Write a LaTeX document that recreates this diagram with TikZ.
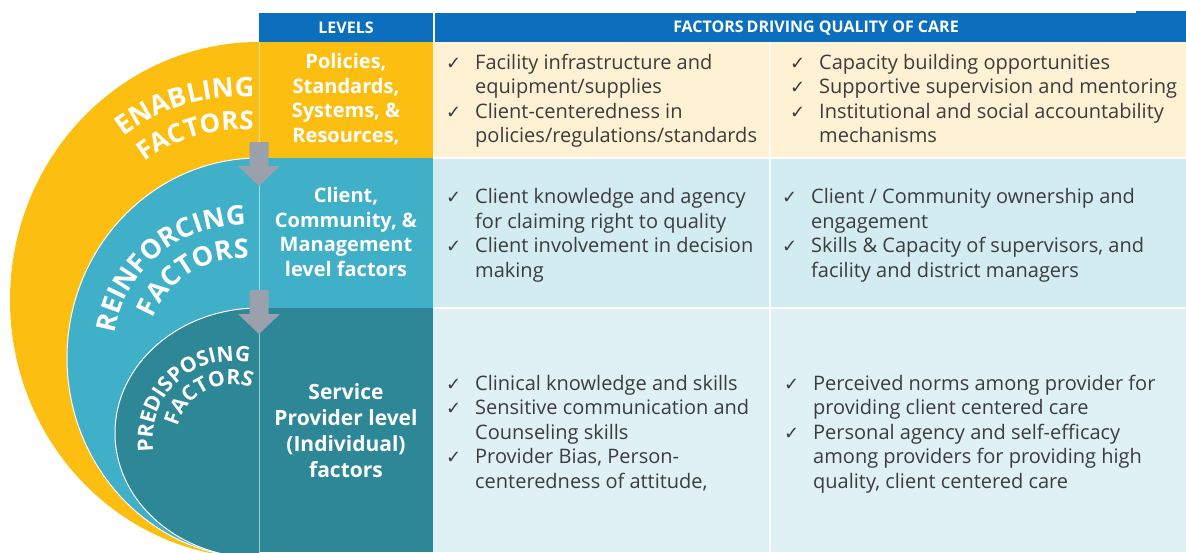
\documentclass[tikz,border=0pt]{standalone}
\usepackage{fontspec}
\setmainfont{Open Sans}
\newfontfamily\checkfont{DejaVu Sans}
\usetikzlibrary{decorations.text}

\definecolor{headblue}{HTML}{0B6FBE}
\definecolor{enablecol}{HTML}{FDBE12}
\definecolor{enablebg}{HTML}{FEF1D4}
\definecolor{reinfcol}{HTML}{40AFC8}
\definecolor{reinfbg}{HTML}{D3ECF2}
\definecolor{predcol}{HTML}{2D8796}
\definecolor{predbg}{HTML}{E0F1F5}
\definecolor{arrowgray}{HTML}{9AA0AC}
\definecolor{bodytext}{HTML}{3C3C3C}

\newcommand\tick{\makebox[29pt][l]{\checkfont\fontsize{18}{18}\selectfont ✓}}
\newcommand\notick{\hspace*{29pt}}

\begin{document}
\begin{tikzpicture}[x=1pt,y=-1pt,
  listtext/.style={anchor=west, inner sep=0pt, text=bodytext,
    font=\fontsize{20}{24.5}\selectfont},
  leveltext/.style={align=center, inner sep=0pt, text=white,
    font=\bfseries\fontsize{20}{24.5}\selectfont},
  headtext/.style={inner sep=0pt, text=white,
    font=\bfseries\fontsize{16}{16}\selectfont},
  sepline/.style={draw=white, line width=1.3pt},
  blockarrow/.style={fill=arrowgray},
  arctext/.style 2 args={decorate, decoration={text along path, text align=center,
    text color=white, text={|\bfseries\fontsize{#1}{#1}\selectfont|#2}}},
]
\useasboundingbox (0,0) rectangle (1186,552);

% nested half-discs on the left
\begin{scope}
  \clip (0,0) rectangle (259,552);
  \fill[enablecol] (259,300) ellipse [x radius=249pt, y radius=258pt];
  \filldraw[fill=reinfcol, draw=white, line width=1pt] (259,358) ellipse [x radius=192pt, y radius=200pt];
  \filldraw[fill=predcol, draw=white, line width=1pt] (259,433) ellipse [x radius=144pt, y radius=125pt];
\end{scope}

% header band
\fill[headblue] (259,13) rectangle (1186,42);
\fill[headblue] (1136,11) rectangle (1186,42);
\draw[sepline] (434,13) -- (434,42);
\node[headtext] (hlevels) at (346,28) {LEVELS};
\node[headtext] (hfactors) at (816,28) {FACTORS\hspace{3pt}DRIVING QUALITY OF CARE};

% level column cells
\fill[enablecol] (259,42) rectangle (433,158);
\fill[reinfcol] (259,158) rectangle (433,308);
\fill[predcol] (259,308) rectangle (433,552);

% factor cells
\fill[enablebg] (433,42) rectangle (1186,158);
\fill[reinfbg] (433,158) rectangle (1186,308);
\fill[predbg] (433,308) rectangle (1186,552);

% grid lines
\draw[sepline] (433,158) -- (1186,158);
\draw[sepline] (433,308) -- (1186,308);
\draw[draw=white, line width=1.2pt, opacity=0.8] (770,42) -- (770,552);
\draw[draw=white, line width=1pt, opacity=0.55] (259,42) -- (259,552);

% block arrows between the levels
\coordinate (a1) at (259,142);
\coordinate (a2) at (259,290);
\foreach \c in {a1,a2}{
  \fill[blockarrow] (\c) ++(-9.5,0) -- ++(0,24) -- ++(-11.5,0) -- ++(21,20)
    -- ++(21,-20) -- ++(-11.5,0) -- ++(0,-24) -- cycle;
}

% curved labels
\path[arctext={27}{ENABLING}]
  (240,290) ++(191.5:193pt) arc[start angle=191.5, end angle=21.5, radius=193pt];
\path[arctext={26}{FACTORS}]
  (240,290) ++(191:160pt) arc[start angle=191, end angle=21, radius=160pt];
\path[arctext={27}{REINFORCING}]
  (242,354.2) ++(214.5:129pt) arc[start angle=214.5, end angle=44.5, radius=129pt];
\path[arctext={27}{FACTORS}]
  (242,354.2) ++(207:96pt) arc[start angle=207, end angle=37, radius=96pt];
\path[arctext={21}{PREDISPOSING}]
  (232,440.5) ++(217.8:79.4pt) arc[start angle=217.8, end angle=47.8, radius=79.4pt];
\path[arctext={21}{FACTORS}]
  (232,440.5) ++(202.7:56pt) arc[start angle=202.7, end angle=32.7, radius=56pt];

% level descriptions
\node[leveltext] (lv1) at (346,99) {Policies,\\Standards,\\Systems, \&\\Resources,};
\node[leveltext] (lv2) at (346,232) {Client,\\Community, \&\\Management\\level factors};
\node[leveltext, font=\bfseries\fontsize{21}{26}\selectfont] (lv3) at (346,431)
  {Service\\Provider level\\(Individual)\\factors};

% factor lists
\node[listtext] (f1a) at (446,101) {\begin{tabular}{@{}l@{}}
  \tick Facility infrastructure and\\
  \notick equipment/supplies\\
  \tick Client-centeredness in\\
  \notick policies/regulations/standards
\end{tabular}};
\node[listtext] (f1b) at (790,101) {\begin{tabular}{@{}l@{}}
  \tick Capacity building opportunities\\
  \tick Supportive supervision and mentoring\\
  \tick Institutional and social accountability\\
  \notick mechanisms
\end{tabular}};
\node[listtext] (f2a) at (446,235.5) {\begin{tabular}{@{}l@{}}
  \tick Client knowledge and agency\\
  \notick for claiming right to quality\\
  \tick Client involvement in decision\\
  \notick making
\end{tabular}};
\node[listtext] (f2b) at (782,235.5) {\begin{tabular}{@{}l@{}}
  \tick Client / Community ownership and\\
  \notick engagement\\
  \tick Skills \& Capacity of supervisors, and\\
  \notick facility and district managers
\end{tabular}};
\node[listtext] (f3a) at (446,434.5) {\begin{tabular}{@{}l@{}}
  \tick Clinical knowledge and skills\\
  \tick Sensitive communication and\\
  \notick Counseling skills\\
  \tick Provider Bias, Person-\\
  \notick centeredness of attitude,
\end{tabular}};
\node[listtext] (f3b) at (784,434.5) {\begin{tabular}{@{}l@{}}
  \tick Perceived norms among provider for\\
  \notick providing client centered care\\
  \tick Personal agency and self-efficacy\\
  \notick among providers for providing high\\
  \notick quality, client centered care
\end{tabular}};
\end{tikzpicture}
\end{document}
